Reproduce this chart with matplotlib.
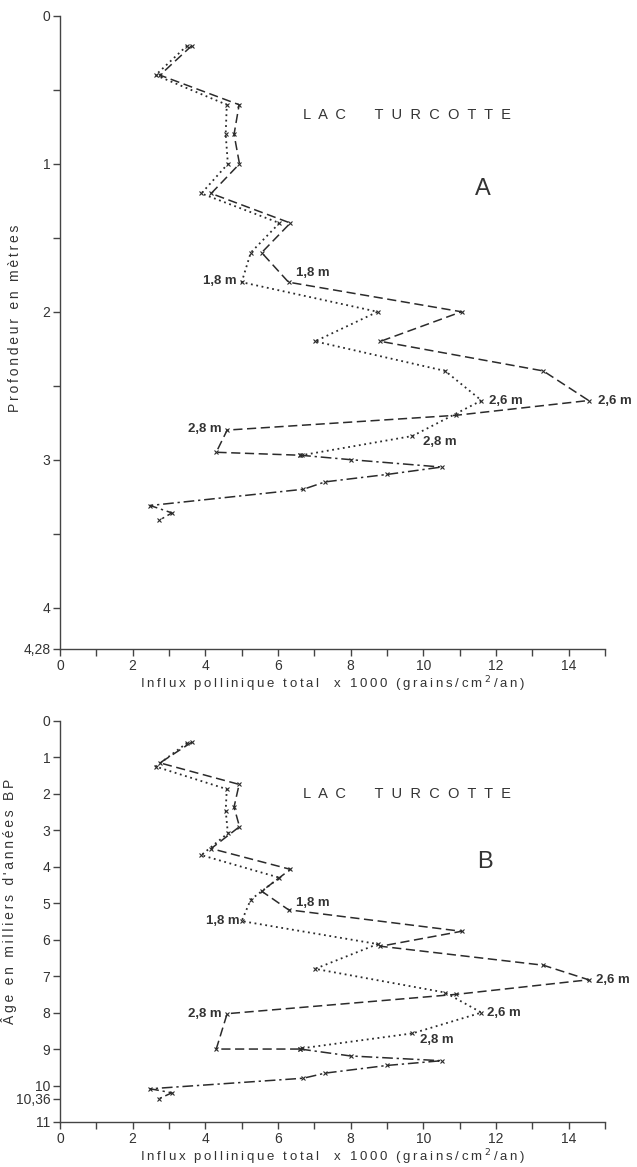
import matplotlib.pyplot as plt

# Influx pollinique total (x1000 grains/cm2/an), Lac Turcotte
# --- panel A: profondeur (m) ---
dash_depth = [0.2, 0.4, 0.6, 0.8, 1.0, 1.2, 1.4, 1.6, 1.8, 2.0, 2.2, 2.4, 2.6, 2.7, 2.8, 2.95, 2.97]
dash_influx = [3.63, 2.75, 4.93, 4.79, 4.94, 4.16, 6.34, 5.55, 6.29, 11.05, 8.82, 13.3, 14.55, 10.9, 4.6, 4.3, 6.61]

dot_depth = [0.2, 0.4, 0.6, 0.8, 1.0, 1.2, 1.4, 1.6, 1.8, 2.0, 2.2, 2.4, 2.6, 2.84, 2.97]
dot_influx = [3.5, 2.63, 4.59, 4.56, 4.62, 3.89, 6.04, 5.25, 5.0, 8.74, 7.02, 10.6, 11.6, 9.7, 6.65]

dd_depth = [2.97, 3.0, 3.05, 3.1, 3.15, 3.2, 3.31, 3.36, 3.41]
dd_influx = [6.61, 8.0, 10.5, 9.0, 7.3, 6.7, 2.48, 3.08, 2.73]

# --- panel B: age (milliers d'annees BP) ---
dash_age = [0.58, 1.15, 1.74, 2.36, 2.9, 3.5, 4.07, 4.67, 5.18, 5.77, 6.18, 6.7, 7.1, 7.5, 8.03, 9.0, 9.0]
dot_age = [0.6, 1.25, 1.87, 2.46, 3.08, 3.68, 4.3, 4.9, 5.49, 6.12, 6.8, 7.45, 8.0, 8.57, 8.98]
dd_age = [9.0, 9.19, 9.32, 9.45, 9.66, 9.8, 10.09, 10.2, 10.36]

x_ticks = list(range(0, 16))
x_labels = ['0', '', '2', '', '4', '', '6', '', '8', '', '10', '', '12', '', '14', '']
depth_ticks = [0, 0.5, 1, 1.5, 2, 2.5, 3, 3.5, 4, 4.28]
depth_labels = ['0', '', '1', '', '2', '', '3', '', '4', '4,28']
age_ticks = [0, 1, 2, 3, 4, 5, 6, 7, 8, 9, 10, 10.36, 11]
age_labels = ['0', '1', '2', '3', '4', '5', '6', '7', '8', '9', '10', '10,36', '11']

plt.rcParams['font.family'] = ['Liberation Sans', 'DejaVu Sans']
ink = '#2b2b2b'
gray = '#444444'
txt = '#333333'


def track(s):
    # wide letter spacing like the typeset original
    return '\u2009'.join(s)


fig = plt.figure(figsize=(6.37, 11.67), dpi=100)
axA = fig.add_axes([0.0942, 0.4439, 0.8556, 0.5424])
axB = fig.add_axes([0.0942, 0.0386, 0.8556, 0.3436])

dash = (0, (6, 3))
dot = (0, (1, 2))
dashdot = (0, (7, 2.5, 1.5, 2.5))
mk = dict(marker='x', markersize=2.8, markeredgewidth=0.8, color=ink)


def draw(ax, y_dash, y_dot, y_dd):
    ax.plot(dash_influx, y_dash, linestyle=dash, linewidth=1.1, **mk)
    ax.plot(dot_influx, y_dot, linestyle=dot, linewidth=1.3, **mk)
    ax.plot(dd_influx, y_dd, linestyle=dashdot, linewidth=1.1, **mk)
    ax.set_xlim(0, 15)
    ax.set_xticks(x_ticks)
    ax.set_xticklabels(x_labels)
    for s in ['top', 'right']:
        ax.spines[s].set_visible(False)
    for s in ['left', 'bottom']:
        ax.spines[s].set_color(gray)
        ax.spines[s].set_linewidth(1.0)
    ax.tick_params(axis='both', colors=gray, labelcolor=txt, labelsize=10,
                   length=5, width=1.0, direction='out', pad=2)
    ax.set_xlabel(track('Influx pollinique total  x 1000 (grains/cm') + '\u2009$^{2}$\u2009' + track('/an)'),
                  fontsize=9.5, color=txt, labelpad=1)


lab = dict(fontsize=9.5, fontweight='bold', color=txt, va='center')
ttl = 'L  A  C       T  U  R  C  O  T  T  E'

draw(axA, dash_depth, dot_depth, dd_depth)
axA.set_ylim(4.28, 0)
axA.set_yticks(depth_ticks)
axA.set_yticklabels(depth_labels)
axA.set_ylabel(track('Profondeur en mètres'), fontsize=10, color=txt)
axA.yaxis.set_label_coords(-0.07, 0.523)
axA.text(0.446, 0.844, ttl, transform=axA.transAxes, fontsize=10.5, color=txt, va='center')
axA.text(0.776, 0.727, 'A', transform=axA.transAxes, fontsize=17, color=txt,
         ha='center', va='center')

axA.text(4.85, 1.79, '1,8 m', ha='right', **lab)
axA.text(6.5, 1.74, '1,8 m', ha='left', **lab)
axA.text(11.8, 2.6, '2,6 m', ha='left', **lab)
axA.text(14.8, 2.6, '2,6 m', ha='left', **lab)
axA.text(4.45, 2.79, '2,8 m', ha='right', **lab)
axA.text(10.0, 2.88, '2,8 m', ha='left', **lab)

draw(axB, dash_age, dot_age, dd_age)
axB.set_ylim(11, 0)
axB.set_yticks(age_ticks)
axB.set_yticklabels(age_labels)
axB.set_ylabel(track("Âge en milliers d'années BP"), fontsize=10, color=txt)
axB.yaxis.set_label_coords(-0.079, 0.55)
axB.text(0.446, 0.818, ttl, transform=axB.transAxes, fontsize=10.5, color=txt, va='center')
axB.text(0.78, 0.648, 'B', transform=axB.transAxes, fontsize=17, color=txt,
         ha='center', va='center')

axB.text(4.95, 5.49, '1,8 m', ha='right', **lab)
axB.text(6.5, 5.0, '1,8 m', ha='left', **lab)
axB.text(14.75, 7.1, '2,6 m', ha='left', **lab)
axB.text(11.75, 8.0, '2,6 m', ha='left', **lab)
axB.text(4.45, 8.03, '2,8 m', ha='right', **lab)
axB.text(9.9, 8.75, '2,8 m', ha='left', **lab)

fig.savefig('out.png', dpi=100)
